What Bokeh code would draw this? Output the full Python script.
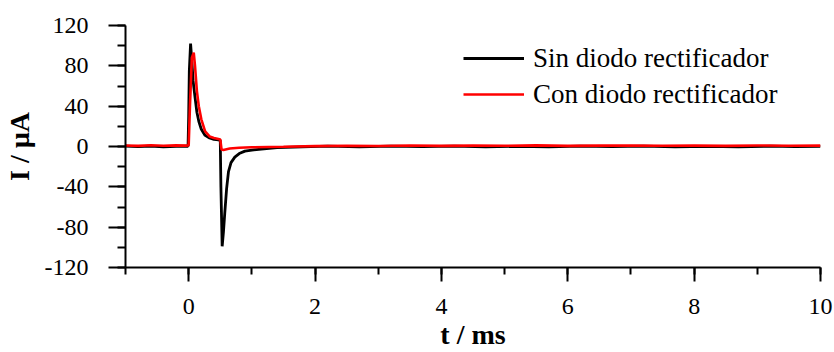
from bokeh.plotting import figure
from bokeh.models import Range1d, SingleIntervalTicker, Legend, LegendItem, CustomJSTickFormatter
from bokeh.embed import file_html
from bokeh.resources import INLINE

# Sin diodo rectificador (black)
t_sin = [-1.0, -0.8, -0.6, -0.4, -0.2, -0.05, -0.01, 0.0, 0.01, 0.03, 0.05, 0.07, 0.10, 0.13, 0.16,
         0.20, 0.26, 0.33, 0.40, 0.47, 0.50, 0.51, 0.53, 0.55, 0.57, 0.60, 0.63, 0.67, 0.73, 0.80,
         0.89, 1.0, 1.15, 1.4, 1.8, 2.2, 2.7, 3.2, 3.7, 4.2, 4.7, 5.2, 5.7, 6.2, 6.7, 7.2, 7.7,
         8.2, 8.7, 9.2, 9.6, 10.0]
i_sin = [0.3, -0.2, 0.4, -0.3, 0.2, 0.4, 0.2, 30, 75, 102, 85, 65, 49, 34, 25,
         17, 11, 8.5, 7, 6.5, 6, -40, -99, -85, -67, -42, -25, -16, -10.5, -7,
         -4.6, -3.5, -2.5, -1.2, -0.4, 0.3, -0.3, 0.4, -0.2, 0.3, -0.4, 0.2, -0.3, 0.4, -0.2, 0.3, -0.3,
         0.2, -0.4, 0.3, -0.2, 0.2]

# Con diodo rectificador (red)
t_con = [-1.0, -0.8, -0.6, -0.4, -0.2, -0.05, 0.0, 0.02, 0.05, 0.08, 0.10, 0.13, 0.16, 0.20, 0.26,
         0.33, 0.40, 0.47, 0.50, 0.52, 0.55, 0.65, 0.80, 1.0, 1.5, 2.0, 2.5, 3.0, 3.5, 4.0, 4.5,
         5.0, 5.5, 6.0, 6.5, 7.0, 7.5, 8.0, 8.5, 9.0, 9.5, 10.0]
i_con = [1.0, 0.6, 1.2, 0.8, 1.1, 0.9, 1.0, 40, 88, 93, 80, 55, 40, 27, 15,
         10, 8.5, 7.5, 7, -3, -3.5, -2, -1.3, -0.8, -0.3, 0.4, 0.8, 0.5, 1.0, 0.6, 0.9,
         0.7, 1.1, 0.6, 0.9, 1.0, 0.7, 0.9, 0.6, 1.0, 0.8, 0.9]

x_label = "t / ms"
y_label = "I / \u00b5A"
legend_labels = ["Sin diodo rectificador", "Con diodo rectificador"]

FONT = "Liberation Serif"

p = figure(width=834, height=352, output_backend="svg", toolbar_location=None,
           x_range=Range1d(-1, 10), y_range=Range1d(-120, 120),
           min_border_left=124, min_border_right=14, min_border_top=25, min_border_bottom=84)
p.outline_line_color = None
p.xgrid.grid_line_color = None
p.ygrid.grid_line_color = None
p.background_fill_color = "white"
p.border_fill_color = "white"

r1 = p.line(t_sin, i_sin, line_color="black", line_width=2.8)
r2 = p.line(t_con, i_con, line_color="#ff0000", line_width=2.6)

xa = p.xaxis[0]
xa.ticker = SingleIntervalTicker(interval=2, num_minor_ticks=2)
ya = p.yaxis[0]
ya.ticker = SingleIntervalTicker(interval=40, num_minor_ticks=2)

for ax in (xa, ya):
    ax.formatter = CustomJSTickFormatter(code="return tick.toFixed(0);")
    ax.axis_line_width = 2
    ax.axis_line_color = "black"
    ax.major_tick_line_width = 2
    ax.minor_tick_line_width = 2
    ax.major_tick_in = 0
    ax.minor_tick_in = 0
    ax.major_label_text_font = FONT
    ax.major_label_text_font_size = "24px"
    ax.major_label_text_color = "black"
    ax.axis_label_text_font = FONT
    ax.axis_label_text_font_size = "28px"
    ax.axis_label_text_font_style = "bold"
    ax.axis_label_text_color = "black"

xa.major_tick_out = 14
xa.minor_tick_out = 7
ya.major_tick_out = 17
ya.minor_tick_out = 8
xa.major_label_standoff = 17
ya.major_label_standoff = 20
xa.axis_label = x_label
ya.axis_label = y_label
xa.axis_label_standoff = 2
ya.axis_label_standoff = 7

legend = Legend(items=[LegendItem(label=legend_labels[0], renderers=[r1]),
                       LegendItem(label=legend_labels[1], renderers=[r2])],
                location=(338, 155))
legend.background_fill_alpha = 0
legend.border_line_color = None
legend.padding = 0
legend.margin = 0
legend.spacing = 0
legend.glyph_width = 61
legend.glyph_height = 36
legend.label_height = 36
legend.label_standoff = 9
legend.label_text_font = FONT
legend.label_text_font_size = "27px"
legend.label_text_color = "black"
p.add_layout(legend, "center")

open("out.html", "w").write(file_html(p, INLINE))
